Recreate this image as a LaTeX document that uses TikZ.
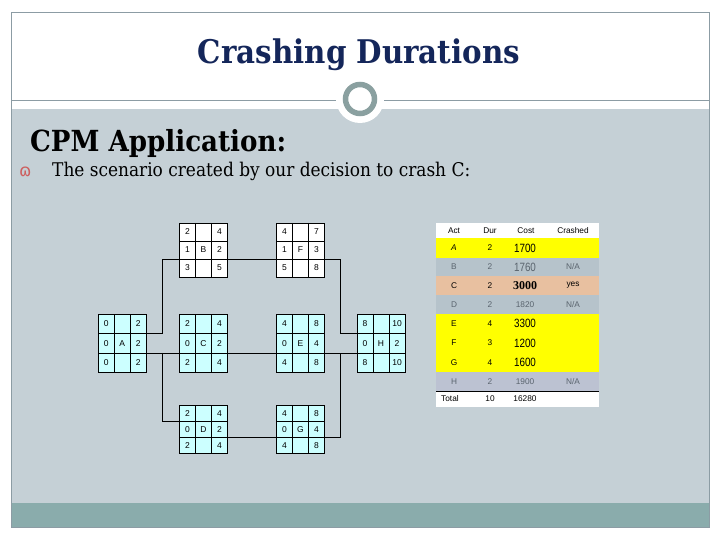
\documentclass[tikz,border=0pt]{standalone}
\usepackage{graphicx}
\usepackage{fontspec}
\setmainfont{DejaVu Serif}
\newfontfamily\sansf{Liberation Sans}
\newfontfamily\tserif{Liberation Serif}
\newfontfamily\condserif{DejaVu Serif Condensed}
\newfontfamily\bulletfont{DejaVu Sans}
\usetikzlibrary{calc}

\definecolor{slidegray}{RGB}{197,208,214}
\definecolor{framegray}{RGB}{140,156,164}
\definecolor{barteal}{RGB}{138,172,172}
\definecolor{ringcol}{RGB}{138,160,160}
\definecolor{navy}{RGB}{20,38,90}
\definecolor{cyanfill}{RGB}{204,255,255}
\definecolor{rowgray}{RGB}{182,195,203}
\definecolor{rowlav}{RGB}{188,194,210}
\definecolor{peach}{RGB}{232,192,160}
\definecolor{graytext}{RGB}{90,100,110}
\definecolor{bulletred}{RGB}{205,95,95}
\definecolor{hiyellow}{RGB}{255,255,0}

\tikzset{
  cpmbox/.style={draw, line width=0.6pt, minimum width=48pt, inner sep=0pt, outer sep=0pt},
  cpmgrid/.style={line width=0.6pt},
  cpmtxt/.style={font=\sansf\fontsize{8.5}{10}\selectfont, inner sep=0pt},
  conn/.style={line width=0.7pt},
  tabtxt/.style={font=\sansf\fontsize{8.3}{9.8}\selectfont, inner sep=0pt},
  bigtxt/.style={font=\sansf\fontsize{12}{14}\selectfont, inner sep=0pt},
}

\def\cpmh{18}
% #1 position, #2 fill, #3 name/letter, #4 tl, #5 tr, #6 ml, #7 mr, #8 bl, #9 br
\newcommand\cpm[9]{%
  \node[cpmbox, fill=#2, minimum height={3*\cpmh*1pt}] (#3) at (#1) {};
  \draw[cpmgrid] (#3.north) ++(-8,0) -- ++(0,{3*\cpmh});
  \draw[cpmgrid] (#3.north) ++(8,0) -- ++(0,{3*\cpmh});
  \draw[cpmgrid] (#3.west) ++(0,{-0.5*\cpmh}) -- ++(48,0);
  \draw[cpmgrid] (#3.west) ++(0,{0.5*\cpmh}) -- ++(48,0);
  \path (#3) ++(-16,{-\cpmh}) node[cpmtxt] (#3tl) {#4} ++(32,0) node[cpmtxt] (#3tr) {#5};
  \path (#3) ++(-16,0) node[cpmtxt] (#3ml) {#6} ++(16,0) node[cpmtxt] (#3mc) {#3} ++(16,0) node[cpmtxt] (#3mr) {#7};
  \path (#3) ++(-16,{\cpmh}) node[cpmtxt] (#3bl) {#8} ++(32,0) node[cpmtxt] (#3br) {#9};
  \path (#3.west) ++(0,{-0.5*\cpmh}) coordinate (#3wu);
  \path (#3.west) ++(0,{0.5*\cpmh}) coordinate (#3wd);
  \path (#3.east) ++(0,{-0.5*\cpmh}) coordinate (#3eu);
  \path (#3.east) ++(0,{0.5*\cpmh}) coordinate (#3ed);
}

\begin{document}
\begin{tikzpicture}[x=1pt,y=-1pt]
\useasboundingbox (0,0) rectangle (720,540);
\fill[white] (0,0) rectangle (720,540);
\fill[slidegray] (11,109) rectangle (709,503);
\fill[barteal] (11,503) rectangle (709,527);
\draw[framegray, line width=0.8pt] (11,12) rectangle (709,527);
\draw[framegray, line width=0.8pt] (11,100) -- (709,100);
\fill[white] (360,99) circle (24pt);
\draw[ringcol, line width=5.5pt] (360,99) circle (14.5pt);

% titles
\node[text=navy, inner sep=0pt] (title) at (359,55) {\resizebox{322pt}{!}{\condserif\bfseries Crashing Durations}};
\node[anchor=base west, inner sep=0pt] (heading) at (30,152) {\resizebox{256pt}{!}{\condserif\bfseries CPM Application:}};
\node[anchor=base west, inner sep=0pt, text=bulletred] (bullet) at (19,177) {\bulletfont\fontsize{17}{20}\selectfont ɷ};
\node[anchor=base west, inner sep=0pt] (body) at (52,177) {\resizebox{418pt}{!}{\condserif The scenario created by our decision to crash C:}};

% CPM nodes
\def\cpmh{18}
\cpm{203.5,250}{white}{B}{2}{4}{1}{2}{3}{5}
\cpm{300.5,250}{white}{F}{4}{7}{1}{3}{5}{8}
\def\cpmh{19.33}
\cpm{122.2,343.3}{cyanfill}{A}{0}{2}{0}{2}{0}{2}
\cpm{203.5,343.3}{cyanfill}{C}{2}{4}{0}{2}{2}{4}
\cpm{300.5,343.3}{cyanfill}{E}{4}{8}{0}{4}{4}{8}
\cpm{381,343.3}{cyanfill}{H}{8}{10}{0}{2}{8}{10}
\def\cpmh{15.9}
\cpm{203.5,429.5}{cyanfill}{D}{2}{4}{0}{2}{2}{4}
\cpm{300.5,429.5}{cyanfill}{G}{4}{8}{0}{4}{4}{8}

\coordinate (j1) at (162.7,0);
\coordinate (j2) at (340.5,0);

% connectors
\draw[conn] (Aeu) -| (j1 |- Bwd) -- (Bwd);
\draw[conn] (Bed) -- (Fwd);
\draw[conn] (Fed) -| (j2 |- Hwu) -- (Hwu);
\draw[conn] (Aed) -- (Cwd);
\draw[conn] (Ced) -- (Ewd);
\draw[conn] (Eed) -- (Hwd);
\draw[conn] (j1 |- Aed) |- (Dwu);
\draw[conn] (Ded) -- (Gwd);
\draw[conn] (Ged) -| (j2 |- Hwd);

% table
\fill[white] (436,222.7) rectangle (599.3,238.3);
\fill[hiyellow] (436,238.3) rectangle (599.3,257.7);
\fill[rowgray] (436,257.7) rectangle (599.3,276);
\fill[peach] (436,276) rectangle (599.3,295);
\fill[rowgray] (436,295) rectangle (599.3,314);
\fill[hiyellow] (436,314) rectangle (599.3,372);
\fill[rowlav] (436,372) rectangle (599.3,391);
\fill[white] (436,391) rectangle (599.3,406.7);
\draw[line width=0.8pt] (436,391) -- (599.3,391);

\node[tabtxt] (h1) at (454,231) {Act};
\node[tabtxt] (h2) at (490,231) {Dur};
\node[tabtxt] (h3) at (526,231) {Cost};
\node[tabtxt] (h4) at (573,231) {Crashed};

\node[tabtxt] (ra1) at (454,248) {\itshape A};
\node[tabtxt] (ra2) at (490,248) {2};
\node[bigtxt] (ra3) at (525,248) {\scalebox{0.82}[1]{1700}};

\node[tabtxt, text=graytext] (rb1) at (454,267) {B};
\node[tabtxt, text=graytext] (rb2) at (490,267) {2};
\node[bigtxt, text=graytext] (rb3) at (525,267) {\scalebox{0.82}[1]{1760}};
\node[tabtxt, text=graytext] (rb4) at (573,267) {N/A};

\node[tabtxt] (rc1) at (454,285.5) {C};
\node[tabtxt] (rc2) at (490,285.5) {2};
\node[inner sep=0pt, font=\tserif\bfseries\fontsize{12}{14}\selectfont] (rc3) at (525,285.5) {3000};
\node[tabtxt] (rc4) at (573,285.5) {yes};

\node[tabtxt, text=graytext] (rd1) at (454,304.5) {D};
\node[tabtxt, text=graytext] (rd2) at (490,304.5) {2};
\node[tabtxt, text=graytext] (rd3) at (525,304.5) {1820};
\node[tabtxt, text=graytext] (rd4) at (573,304.5) {N/A};

\node[tabtxt] (re1) at (454,323.7) {E};
\node[tabtxt] (re2) at (490,323.7) {4};
\node[bigtxt] (re3) at (525,323.7) {\scalebox{0.82}[1]{3300}};

\node[tabtxt] (rf1) at (454,343) {F};
\node[tabtxt] (rf2) at (490,343) {3};
\node[bigtxt] (rf3) at (525,343) {\scalebox{0.82}[1]{1200}};

\node[tabtxt] (rg1) at (454,362.3) {G};
\node[tabtxt] (rg2) at (490,362.3) {4};
\node[bigtxt] (rg3) at (525,362.3) {\scalebox{0.82}[1]{1600}};

\node[tabtxt, text=graytext] (rh1) at (454,381.5) {H};
\node[tabtxt, text=graytext] (rh2) at (490,381.5) {2};
\node[tabtxt, text=graytext] (rh3) at (525,381.5) {1900};
\node[tabtxt, text=graytext] (rh4) at (573,381.5) {N/A};

\node[tabtxt, anchor=west] (rt1) at (441,399) {Total};
\node[tabtxt] (rt2) at (490,399) {10};
\node[tabtxt] (rt3) at (525,399) {16280};
\end{tikzpicture}
\end{document}
